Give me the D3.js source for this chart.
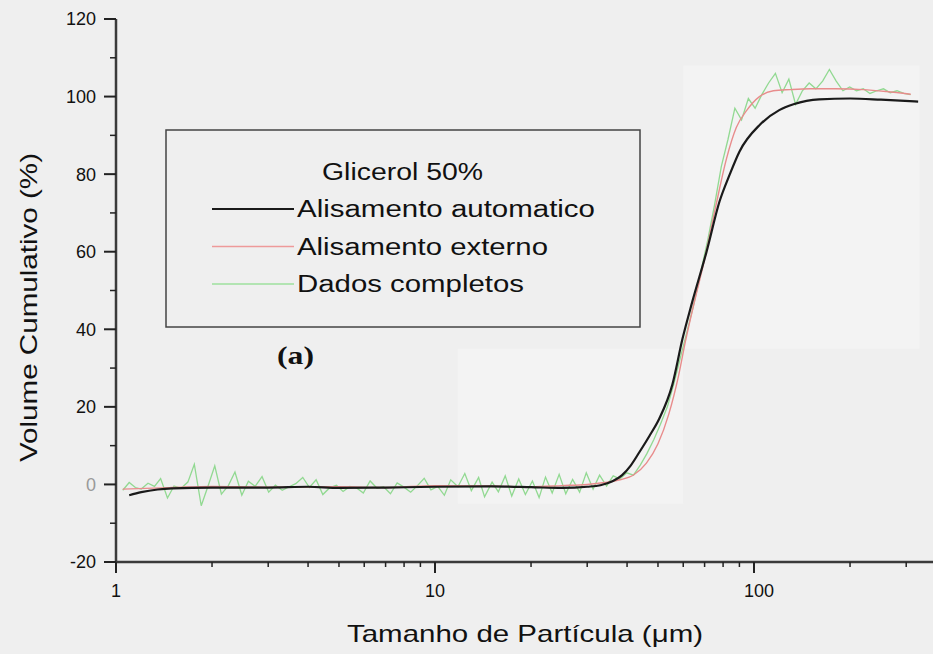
<!DOCTYPE html>
<html>
<head>
<meta charset="utf-8">
<script src="https://cdn.jsdelivr.net/npm/d3@7"></script>
<style>
  html, body { margin: 0; padding: 0; background: #efefef; }
  svg { display: block; font-family: "Liberation Sans", Arial, sans-serif; }
</style>
</head>
<body>
<svg id="chart" width="933" height="654"></svg>
<script>
// Particle size (µm) and cumulative volume (%) for the three series
const autoSize = [1.1, 1.2, 1.35, 1.5, 2, 3, 4, 5, 7, 10, 15, 20, 25, 30, 33, 36, 38.6, 41, 43.7, 47, 50.5, 55.5, 59.7, 64, 71, 78, 84, 90, 104.5, 120, 133, 160, 200, 250, 327];
const autoVol  = [-2.8, -2.0, -1.3, -1.0, -0.8, -0.8, -0.6, -0.9, -0.8, -0.6, -0.5, -0.7, -0.9, -0.6, -0.2, 0.8, 2.4, 4.8, 8.3, 12.5, 17, 25.8, 37.6, 47, 60, 73, 80, 85.8, 92.8, 96.5, 98, 99.3, 99.5, 99.2, 98.7];

const extSize = [1.05, 1.5, 2, 3, 5, 7, 10, 15, 20, 25, 30, 34, 38, 42, 46, 50, 54, 58, 61, 65, 70, 76, 82, 88, 95, 104, 115, 130, 150, 180, 220, 260, 310];
const extVol  = [-1.2, -0.8, -0.5, -0.7, -0.6, -0.8, -0.3, -0.4, -0.6, -0.3, 0, 0.5, 1.2, 2.5, 5.5, 10.5, 18, 28, 37, 47, 58, 72, 84, 92, 96.5, 100, 101.5, 101.8, 102, 102, 101.8, 101.3, 100.6];

const rawSize = [1.05, 1.1, 1.15, 1.2, 1.26, 1.32, 1.38, 1.45, 1.52, 1.6, 1.68, 1.76, 1.85, 1.94, 2.04, 2.14, 2.25, 2.36, 2.48, 2.6,
  2.73, 2.87, 3.01, 3.16, 3.32, 3.49, 3.66, 3.85, 4.04, 4.24, 4.45, 4.67, 4.91, 5.15, 5.41, 5.68, 5.96, 6.26, 6.58, 6.9,
  7.25, 7.61, 7.99, 8.39, 8.81, 9.25, 9.71, 10.2, 10.7, 11.2, 11.8, 12.4, 13, 13.7, 14.3, 15.1, 15.8, 16.6, 17.4, 18.3,
  19.2, 20.2, 21.2, 22.2, 23.3, 24.5, 25.7, 27, 28.4, 29.8, 31.3, 32.8, 34.5, 36.2, 38, 39.9, 41.9, 44, 46.2, 48.5,
  50.9, 53.5, 56.1, 58.9, 61.9, 65, 68.2, 71.6, 75.2, 79, 82.9, 87.1, 91.4, 96, 100.8, 105.8, 111.1, 116.7, 122.5, 128.6,
  135, 141.8, 148.9, 156.3, 164.1, 172.3, 181, 190, 199.5, 209.5, 220, 231, 242.5, 254.6, 267.4, 280.7, 294.8, 309.5];
const rawVol = [-1.5, 0.5, -0.8, -1.2, 0.3, -0.5, 1.5, -3.5, -0.4, -1.0, 0.6, 5.2, -5.5, -0.6, 4.8, -2.5, -0.3, 3.2, -2.8, 0.8,
  -0.5, 2.0, -2.0, -0.2, -1.5, -0.6, 0.2, 1.8, -0.8, 1.2, -2.6, -0.9, -0.2, -1.8, -0.5, -0.9, -2.2, 0.9, -1.0, -0.6,
  -2.4, 0.4, -0.7, -2.0, -0.3, 1.6, -1.4, -0.5, -2.8, 1.2, -0.6, 2.8, -1.6, 1.8, -3.2, 0.6, -1.9, 2.2, -3.0, 1.4,
  -2.6, 0.9, -3.4, 1.9, -2.2, 2.6, -2.4, 1.3, -2.0, 3.0, -1.2, 2.4, -0.4, 2.2, 1.4, 3.0, 2.4, 5.0, 8.0, 11.5,
  15.5, 20.0, 26.0, 33.0, 40.0, 47.0, 55.0, 63.0, 72.0, 82.0, 89.0, 97.0, 94.0, 99.5, 97.0, 100.5, 103.5, 106.0, 101.0, 104.5,
  98.0, 101.5, 103.5, 102.0, 104.0, 107.0, 104.0, 101.5, 102.5, 101.5, 102.0, 100.8, 101.5, 102.0, 101.0, 101.5, 100.8, 100.5];

const yTicks = [-20, 0, 20, 40, 60, 80, 100, 120];
const xTicks = [1, 10, 100];
const legendTitle = "Glicerol 50%";
const seriesNames = ["Alisamento automatico", "Alisamento externo", "Dados completos"];
const xTitle = "Tamanho de Partícula (\u03bcm)";
const yTitle = "Volume Cumulativo (%)";
const panelTag = "(a)";

const svg = d3.select("#chart");
const x = d3.scaleLog().domain([1, 364]).range([116, 933]);
const y = d3.scaleLinear().domain([-20, 120]).range([562, 19]);

// slightly lighter patches of the plotting area
svg.append("rect").attr("x", x(11.8)).attr("y", y(35)).attr("width", x(60) - x(11.8)).attr("height", y(-5) - y(35)).attr("fill", "#f3f3f3");
svg.append("rect").attr("x", x(60)).attr("y", y(108)).attr("width", x(330) - x(60)).attr("height", y(35) - y(108)).attr("fill", "#f3f3f3");

// Legend box
const lg = svg.append("g");
lg.append("rect").attr("x", 166).attr("y", 130).attr("width", 474).attr("height", 197)
  .attr("fill", "none").attr("stroke", "#444").attr("stroke-width", 1.5);
lg.append("text").attr("x", 322).attr("y", 180).attr("font-size", 23).attr("fill", "#111")
  .attr("textLength", 161).attr("lengthAdjust", "spacingAndGlyphs").text(legendTitle);
const legColors = ["#1a1a1a", "#ee9a9a", "#9ee09e"];
const legWidths = [298, 251, 227];
seriesNames.forEach((name, i) => {
  const by = 217 + i * 37.5;
  lg.append("line").attr("x1", 212).attr("x2", 294).attr("y1", by - 8).attr("y2", by - 8)
    .attr("stroke", legColors[i]).attr("stroke-width", i === 0 ? 2 : 1.5);
  lg.append("text").attr("x", 297).attr("y", by).attr("font-size", 23).attr("fill", "#111")
    .attr("textLength", legWidths[i]).attr("lengthAdjust", "spacingAndGlyphs").text(name);
});

svg.append("text").attr("x", 277).attr("y", 364).attr("font-family", "'Liberation Serif', 'Times New Roman', serif")
  .attr("font-weight", "bold").attr("font-size", 26).attr("fill", "#111")
  .attr("textLength", 37).attr("lengthAdjust", "spacingAndGlyphs").text(panelTag);

// Series
const line = (xs, ys, curve) => d3.line().x((d, i) => x(xs[i])).y((d, i) => y(ys[i])).curve(curve)(xs);
svg.append("path").attr("d", line(rawSize, rawVol, d3.curveLinear))
  .attr("fill", "none").attr("stroke", "#86d686").attr("stroke-width", 1.3).attr("stroke-opacity", 0.9);
svg.append("path").attr("d", line(extSize, extVol, d3.curveMonotoneX))
  .attr("fill", "none").attr("stroke", "#e88c8c").attr("stroke-width", 1.4);
svg.append("path").attr("d", line(autoSize, autoVol, d3.curveMonotoneX))
  .attr("fill", "none").attr("stroke", "#1a1a1a").attr("stroke-width", 2.2);

// Y axis
const yAxis = svg.append("g").attr("transform", "translate(116,0)");
yAxis.append("line").attr("x1", 0).attr("x2", 0).attr("y1", y(120)).attr("y2", y(-20))
  .attr("stroke", "#3a3a3a").attr("stroke-width", 2.5);
d3.range(-20, 121, 10).forEach(v => {
  const major = v % 20 === 0;
  yAxis.append("line").attr("x1", major ? -12 : -6).attr("x2", 0).attr("y1", y(v)).attr("y2", y(v))
    .attr("stroke", "#222").attr("stroke-width", major ? 2 : 1.5);
});
yAxis.selectAll("text.tick").data(yTicks).enter().append("text")
  .attr("x", -20).attr("y", d => y(d)).attr("dy", "0.36em").attr("text-anchor", "end")
  .attr("font-size", 18).attr("fill", d => d === 0 ? "#999" : "#111").text(d => d);

// X axis
const xAxis = svg.append("g").attr("transform", "translate(0,562)");
xAxis.append("line").attr("x1", 116).attr("x2", 933).attr("y1", 0).attr("y2", 0)
  .attr("stroke", "#3a3a3a").attr("stroke-width", 2.5);
x.ticks().forEach(v => {
  const major = xTicks.includes(v);
  xAxis.append("line").attr("x1", x(v)).attr("x2", x(v)).attr("y1", 0).attr("y2", major ? 11 : 5)
    .attr("stroke", "#222").attr("stroke-width", major ? 2 : 1.5);
});
xAxis.selectAll("text.tick").data(xTicks).enter().append("text")
  .attr("x", d => x(d) + (d === 100 ? 5 : 0)).attr("y", 35).attr("text-anchor", "middle")
  .attr("font-size", 18).attr("fill", "#111").text(d => d);

// Axis titles
svg.append("text").attr("x", 347).attr("y", 642).attr("font-size", 24).attr("fill", "#111")
  .attr("textLength", 356).attr("lengthAdjust", "spacingAndGlyphs").text(xTitle);
svg.append("text").attr("transform", "translate(37,462) rotate(-90)").attr("font-size", 24).attr("fill", "#111")
  .attr("textLength", 309).attr("lengthAdjust", "spacingAndGlyphs").text(yTitle);
</script>
</body>
</html>
